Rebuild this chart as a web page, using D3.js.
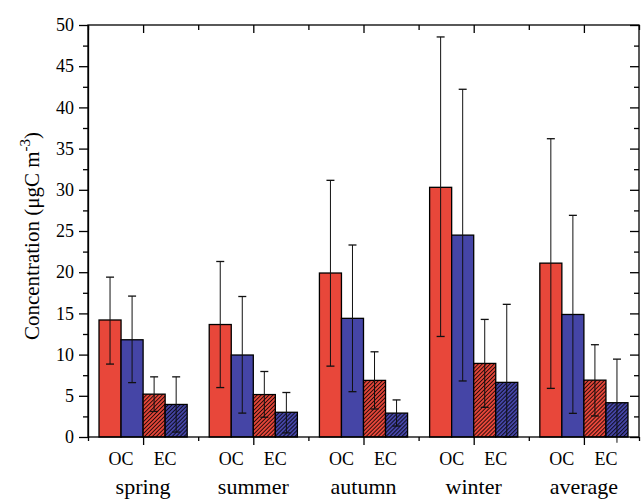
<!DOCTYPE html>
<html>
<head>
<meta charset="utf-8">
<script src="https://cdn.jsdelivr.net/npm/d3@7"></script>
<style>
  body { margin: 0; background: #fff; }
  .axis path, .axis line { stroke: #000; stroke-width: 1.3; }
  svg text { font-family: "Liberation Serif", "DejaVu Serif", "Noto Serif", serif !important; }
</style>
</head>
<body>
<script>
// data
const seasons = ["spring", "summer", "autumn", "winter", "average"]
const species = ["OC", "EC"]

// red series: mean, lower and upper end of error bar
const ocRed = [14.2, 13.65, 19.9, 30.3, 21.1]
const ocRedLow = [8.85, 6.0, 8.6, 12.2, 5.9]
const ocRedHigh = [19.4, 21.3, 31.15, 48.55, 36.2]
const ecRed = [5.2, 5.15, 6.87, 8.93, 6.9]
const ecRedLow = [3.1, 2.4, 3.4, 3.6, 2.55]
const ecRedHigh = [7.3, 7.95, 10.34, 14.27, 11.2]

// blue series
const ocBlue = [11.8, 9.95, 14.4, 24.5, 14.87]
const ocBlueLow = [6.6, 2.9, 5.5, 6.8, 2.87]
const ocBlueHigh = [17.1, 17.05, 23.3, 42.2, 26.9]
const ecBlue = [3.95, 3.0, 2.9, 6.63, 4.16]
const ecBlueLow = [0.6, 0.5, 1.33, 0, -0.7]
const ecBlueHigh = [7.3, 5.4, 4.5, 16.1, 9.45]

const yTicks = [0, 5, 10, 15, 20, 25, 30, 35, 40, 45, 50]

//Margin Convention
const margin = {top: 25, right: 4, bottom: 64, left: 88}
const W = 643, H = 501
const width = W - margin.left - margin.right
const height = H - margin.top - margin.bottom

const red = "#e8473a"
const blue = "#4545a6"

//Scales
const x = d3.scaleLinear().domain([0, 10]).range([0, width])
const y = d3.scaleLinear().domain([0, 50]).range([height, 0])

const svg = d3.select("body").append("svg")
  .attr("width", W)
  .attr("height", H)

const defs = svg.append("defs")
function hatch(id, color) {
  const p = defs.append("pattern")
    .attr("id", id)
    .attr("patternUnits", "userSpaceOnUse")
    .attr("width", 2.8)
    .attr("height", 2.8)
    .attr("patternTransform", "rotate(45)")
  p.append("rect").attr("width", 2.8).attr("height", 2.8).attr("fill", color)
  p.append("line")
    .attr("x1", 0.5).attr("y1", 0).attr("x2", 0.5).attr("y2", 2.8)
    .attr("stroke", "#000").attr("stroke-width", 0.8)
}
hatch("hatchRed", red)
hatch("hatchBlue", blue)

const g = svg.append("g")
  .attr("transform", "translate(" + margin.left + "," + margin.top + ")")

// build bar table
const bars = []
seasons.forEach(function(s, i) {
  const c = 2 * i + 1
  bars.push({pos: c - 0.8, v: ocRed[i], lo: ocRedLow[i], hi: ocRedHigh[i], fill: red})
  bars.push({pos: c - 0.4, v: ocBlue[i], lo: ocBlueLow[i], hi: ocBlueHigh[i], fill: blue})
  bars.push({pos: c, v: ecRed[i], lo: ecRedLow[i], hi: ecRedHigh[i], fill: "url(#hatchRed)"})
  bars.push({pos: c + 0.4, v: ecBlue[i], lo: ecBlueLow[i], hi: ecBlueHigh[i], fill: "url(#hatchBlue)"})
})
const bw = x(0.4) - x(0)

g.selectAll(".bar")
  .data(bars)
  .enter().append("rect")
  .attr("class", "bar")
  .attr("x", d => x(d.pos))
  .attr("y", d => y(d.v))
  .attr("width", bw)
  .attr("height", d => y(0) - y(d.v))
  .attr("fill", d => d.fill)
  .attr("stroke", "#000")
  .attr("stroke-width", 1.3)

// error bars
const err = g.selectAll(".err")
  .data(bars)
  .enter().append("g")
  .attr("class", "err")
  .attr("transform", d => "translate(" + (x(d.pos) + bw / 2) + ",0)")

err.append("line")
  .attr("y1", d => y(d.lo))
  .attr("y2", d => y(d.hi))
  .attr("stroke", "#111").attr("stroke-width", 1)
err.append("line")
  .attr("x1", -4).attr("x2", 4)
  .attr("y1", d => y(d.hi)).attr("y2", d => y(d.hi))
  .attr("stroke", "#111").attr("stroke-width", 1.3)
err.filter(d => d.lo >= 0).append("line")
  .attr("x1", -4).attr("x2", 4)
  .attr("y1", d => y(d.lo)).attr("y2", d => y(d.lo))
  .attr("stroke", "#111").attr("stroke-width", 1.3)

// axes
const minorY = d3.range(2.5, 50, 5)
const majorX = [1, 3, 5, 7, 9]
const minorX = [0, 2, 4, 6, 8, 10]

g.append("g").attr("class", "axis")
  .call(d3.axisLeft(y).tickValues(yTicks).tickSize(9).tickSizeOuter(0).tickPadding(5))
  .attr("font-size", 18)
g.append("g").attr("class", "axis")
  .call(d3.axisLeft(y).tickValues(minorY).tickSize(5).tickFormat(""))
  .call(a => a.select(".domain").remove())

g.append("g").attr("class", "axis")
  .attr("transform", "translate(" + width + ",0)")
  .call(d3.axisLeft(y).tickValues(yTicks).tickSize(9).tickFormat(""))
  .call(a => a.select(".domain").remove())
g.append("g").attr("class", "axis")
  .attr("transform", "translate(" + width + ",0)")
  .call(d3.axisLeft(y).tickValues(minorY).tickSize(5).tickFormat(""))
  .call(a => a.select(".domain").remove())

g.append("g").attr("class", "axis")
  .call(d3.axisBottom(x).tickValues(majorX).tickSize(8).tickFormat(""))
  .call(a => a.select(".domain").remove())
g.append("g").attr("class", "axis")
  .call(d3.axisBottom(x).tickValues(minorX).tickSize(5).tickFormat(""))
  .call(a => a.select(".domain").remove())

g.append("g").attr("class", "axis")
  .attr("transform", "translate(0," + height + ")")
  .call(d3.axisBottom(x).tickValues(majorX).tickSize(8).tickFormat(""))
  .call(a => a.select(".domain").remove())
g.append("g").attr("class", "axis")
  .attr("transform", "translate(0," + height + ")")
  .call(d3.axisBottom(x).tickValues(minorX).tickSize(4).tickFormat(""))
  .call(a => a.select(".domain").remove())

// frame
g.append("rect")
  .attr("width", width).attr("height", height)
  .attr("fill", "none").attr("stroke", "#000").attr("stroke-width", 1.3)

// category labels
seasons.forEach(function(s, i) {
  const c = 2 * i + 1
  species.forEach(function(sp, j) {
    g.append("text")
      .attr("x", x(c + (j === 0 ? -0.4 : 0.4)))
      .attr("y", height + 28)
      .attr("text-anchor", "middle")
      .attr("font-size", 18)
      .text(sp)
  })
  g.append("text")
    .attr("x", x(c))
    .attr("y", height + 57)
    .attr("text-anchor", "middle")
    .attr("font-size", 22)
    .text(s)
})

// y title
const title = svg.append("text")
  .attr("transform", "translate(39," + (margin.top + y(25) + 5) + ") rotate(-90)")
  .attr("text-anchor", "middle")
  .attr("font-size", 21)
title.append("tspan").text("Concentration (\u03bcgC m")
title.append("tspan").attr("dy", -9).attr("font-size", 15).text("-3")
title.append("tspan").attr("dy", 9).text(")")
</script>
</body>
</html>
